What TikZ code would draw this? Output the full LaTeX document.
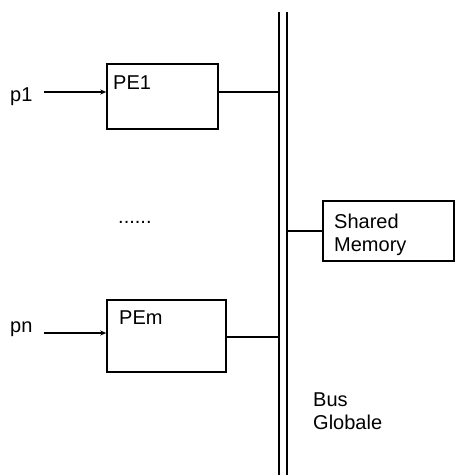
\documentclass[tikz,border=0pt]{standalone}
\usepackage{fontspec}
\setmainfont{Liberation Sans}
\usetikzlibrary{arrows.meta,positioning}
\tikzset{
  arrow/.style={-{Stealth[length=6pt,width=5pt]},line width=1.2pt},
  link/.style={line width=1.2pt},
  busline/.style={line width=1.5pt},
  unit/.style={draw,line width=1.5pt,inner sep=0pt},
  tag/.style={font=\fontsize{20}{23}\selectfont,inner sep=0pt}
}

\begin{document}
\begin{tikzpicture}[x=1pt,y=-1pt]
  \useasboundingbox (0,0) rectangle (455,475);

  % global bus
  \coordinate (busTL) at (279,12);
  \coordinate (busBL) at (279,475);
  \coordinate (busTR) at (287,12);
  \coordinate (busBR) at (287,475);
  \draw[busline] (busTL)--(busBL);
  \draw[busline] (busTR)--(busBR);
  \node[tag,anchor=base west] (busa) at (313,406) {Bus};
  \node[tag,anchor=base west] (busb) at (313,429) {Globale};

  % first processing element
  \node[unit,minimum width=111pt,minimum height=65pt] (pe1) at (162.5,96.5) {};
  \node[tag,anchor=base west] (pe1t) at (113,89) {PE1};
  \node[tag,anchor=base west] (p1) at (10,101) {p1};
  \coordinate (p1in) at (44,92);
  \draw[arrow] (p1in)--(pe1.west |- p1in);
  \draw[link] (pe1.east |- p1in)--(busTL |- p1in);

  \node[tag,anchor=base west] (dots) at (118,223) {......};

  % last processing element
  \node[unit,minimum width=119pt,minimum height=72pt] (pem) at (166.5,336) {};
  \node[tag,anchor=base west] (pemt) at (119,324) {PEm};
  \node[tag,anchor=base west] (pn) at (10,332) {pn};
  \coordinate (pnin) at (44,333);
  \coordinate (pmout) at (226,337);
  \draw[arrow] (pnin)--(pem.west |- pnin);
  \draw[link] (pem.east |- pmout)--(busTL |- pmout);

  % shared memory
  \node[unit,minimum width=131pt,minimum height=60pt] (mem) at (388.5,231) {};
  \node[tag,anchor=base west] (memt1) at (334,228) {Shared};
  \node[tag,anchor=base west] (memt2) at (334,251) {Memory};
  \draw[link] (busTR |- mem.west)--(mem.west);
\end{tikzpicture}
\end{document}
